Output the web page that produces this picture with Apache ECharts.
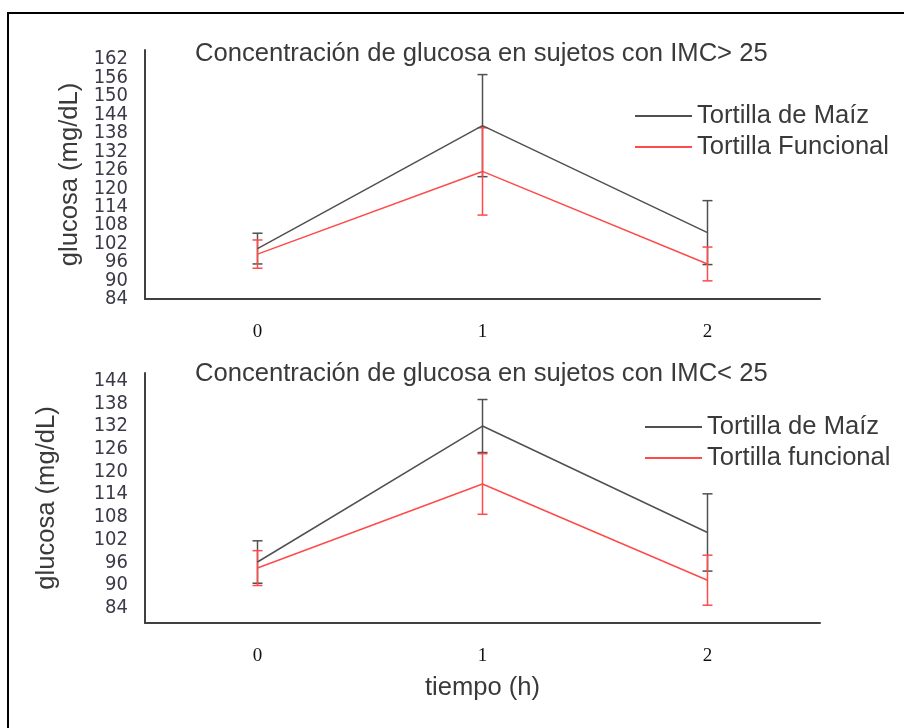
<!DOCTYPE html>
<html>
<head>
<meta charset="utf-8">
<script src="https://cdn.jsdelivr.net/npm/echarts@6/dist/echarts.min.js"></script>
<style>
html,body{margin:0;padding:0;background:#fff;}
#chart{width:904px;height:728px;}
</style>
</head>
<body>
<div id="chart"></div>
<script>
// ---- data ----
const times = ['0', '1', '2'];
// IMC > 25
const maizTop = [100.4, 140.4, 105.6];
const maizTopSd = [5.0, 16.6, 10.4];
const funcTop = [98.6, 125.5, 95.4];
const funcTopSd = [4.6, 14.2, 5.5];
// IMC < 25
const maizBot = [96.1, 132.0, 103.9];
const maizBotSd = [5.6, 7.0, 10.2];
const funcBot = [94.5, 116.7, 91.3];
const funcBotSd = [4.6, 8.0, 6.6];

const titleTop = 'Concentración de glucosa en sujetos con IMC> 25';
const titleBot = 'Concentración de glucosa en sujetos con IMC< 25';
const yName = 'glucosa (mg/dL)';
const xName = 'tiempo (h)';
const nameMaiz = 'Tortilla de Maíz';
const nameFuncTop = 'Tortilla Funcional';
const nameFuncBot = 'Tortilla funcional';

const BLACK = '#505050';
const RED = '#ff4a4a';
const TXT = '#3a3a3a';
const FS = 25.6;

const chart = echarts.init(document.getElementById('chart'));

function errData(mean, sd) {
  return mean.map((m, i) => [i, m - sd[i], m + sd[i]]);
}
function errSeries(idx, mean, sd, color) {
  return {
    type: 'custom',
    xAxisIndex: idx, yAxisIndex: idx,
    data: errData(mean, sd),
    silent: true,
    renderItem: function (params, api) {
      const x = api.value(0);
      const lo = api.coord([x, api.value(1)]);
      const hi = api.coord([x, api.value(2)]);
      const w = 5;
      const style = { stroke: color, lineWidth: 1.5 };
      return {
        type: 'group',
        children: [
          { type: 'line', shape: { x1: hi[0], y1: hi[1], x2: lo[0], y2: lo[1] }, style: style },
          { type: 'line', shape: { x1: hi[0] - w, y1: hi[1], x2: hi[0] + w, y2: hi[1] }, style: style },
          { type: 'line', shape: { x1: lo[0] - w, y1: lo[1], x2: lo[0] + w, y2: lo[1] }, style: style }
        ]
      };
    }
  };
}
function lineSeries(idx, name, data, color) {
  return {
    type: 'line', name: name, xAxisIndex: idx, yAxisIndex: idx,
    data: data, symbol: 'none', lineStyle: { color: color, width: 1.5 },
    itemStyle: { color: color }, animation: false
  };
}
function yLabelFmt(v) {
  return (v >= 84 && Math.round(v - 84) % 6 === 0) ? String(v) : '';
}
const axisLine = { show: true, lineStyle: { color: '#404040', width: 2 } };
const yLabel = { formatter: yLabelFmt, color: '#3a3a48', fontFamily: 'Liberation Sans Narrow, DejaVu Sans Condensed, sans-serif', fontSize: 20, margin: 17 };
const xLabel = { color: '#111', fontFamily: 'Liberation Serif, Times New Roman, serif', fontSize: 19, margin: 24 };
const legendText = { fontFamily: 'Liberation Sans, Arial, sans-serif', fontSize: FS, color: TXT };

chart.setOption({
  animation: false,
  backgroundColor: '#fff',
  title: [
    { text: titleTop, left: 195, top: 41, padding: 0, textStyle: { fontFamily: 'Liberation Sans, Arial, sans-serif', fontSize: FS, fontWeight: 'normal', color: TXT } },
    { text: titleBot, left: 195, top: 361, padding: 0, textStyle: { fontFamily: 'Liberation Sans, Arial, sans-serif', fontSize: FS, fontWeight: 'normal', color: TXT } }
  ],
  legend: [
    { data: [nameMaiz, nameFuncTop], orient: 'vertical', left: 635, top: 103, itemGap: 5, itemWidth: 57, itemHeight: 2, icon: 'rect', padding: 0,
      textStyle: legendText },
    { data: [nameMaiz, nameFuncBot], orient: 'vertical', left: 645, top: 414, itemGap: 5, itemWidth: 57, itemHeight: 2, icon: 'rect', padding: 0,
      textStyle: legendText }
  ],
  grid: [
    { left: 145, top: 50, width: 675, height: 249 },
    { left: 145, top: 373, width: 675, height: 250 }
  ],
  xAxis: [
    { type: 'category', gridIndex: 0, data: times, boundaryGap: true, axisLine: axisLine, axisTick: { show: false }, axisLabel: xLabel },
    { type: 'category', gridIndex: 1, data: times, boundaryGap: true, axisLine: axisLine, axisTick: { show: false }, axisLabel: xLabel,
      name: xName, nameLocation: 'middle', nameGap: 52, nameTextStyle: { fontFamily: 'Liberation Sans, Arial, sans-serif', fontSize: FS, color: TXT } }
  ],
  yAxis: [
    { type: 'value', gridIndex: 0, min: 84, max: 165, interval: 3, splitLine: { show: false }, axisLine: axisLine, axisTick: { show: false }, axisLabel: yLabel,
      name: yName, nameLocation: 'middle', nameGap: 50, nameTextStyle: { fontFamily: 'Liberation Sans, Arial, sans-serif', fontSize: FS, color: TXT } },
    { type: 'value', gridIndex: 1, min: 80, max: 146, interval: 2, splitLine: { show: false }, axisLine: axisLine, axisTick: { show: false }, axisLabel: yLabel,
      name: yName, nameLocation: 'middle', nameGap: 85, nameTextStyle: { fontFamily: 'Liberation Sans, Arial, sans-serif', fontSize: FS, color: TXT } }
  ],
  graphic: [
    { type: 'rect', shape: { x: 8, y: 13, width: 910, height: 730 }, style: { fill: 'none', stroke: '#000', lineWidth: 2 }, silent: true }
  ],
  series: [
    errSeries(0, maizTop, maizTopSd, BLACK),
    lineSeries(0, nameMaiz, maizTop, BLACK),
    errSeries(0, funcTop, funcTopSd, RED),
    lineSeries(0, nameFuncTop, funcTop, RED),
    errSeries(1, maizBot, maizBotSd, BLACK),
    lineSeries(1, nameMaiz, maizBot, BLACK),
    errSeries(1, funcBot, funcBotSd, RED),
    lineSeries(1, nameFuncBot, funcBot, RED)
  ]
});
</script>
</body>
</html>
